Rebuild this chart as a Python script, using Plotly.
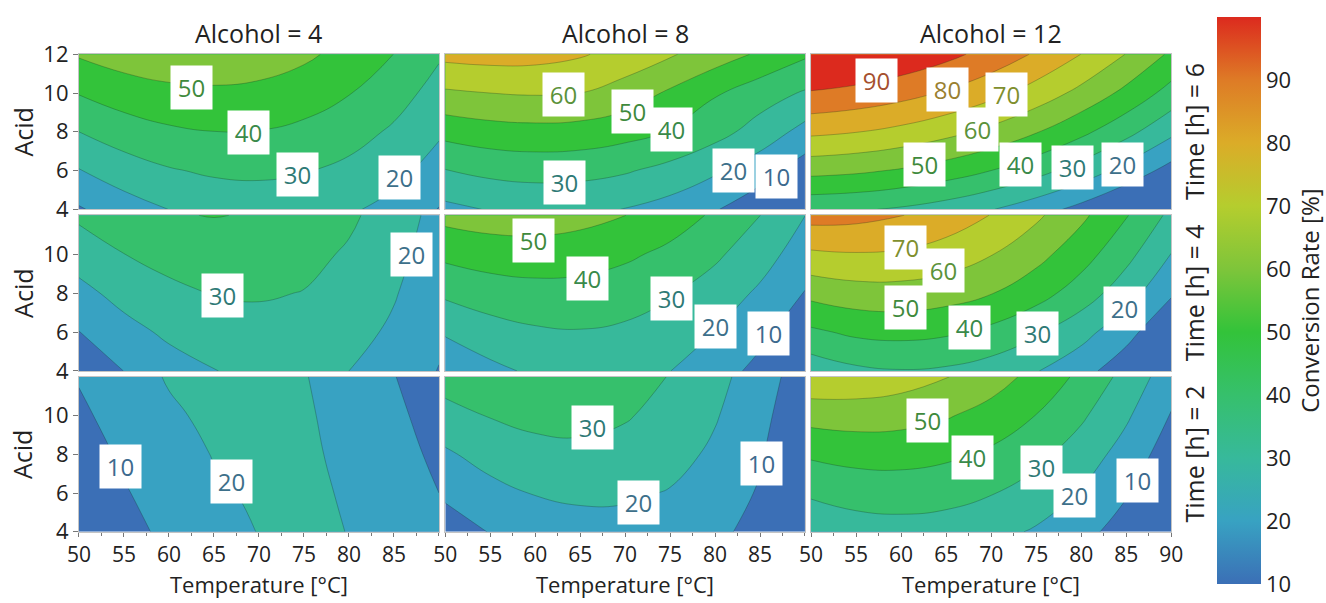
import plotly.graph_objects as go

# Grid of the response surfaces: temperature (°C) along x, acid along y
temperature = [50, 55, 60, 65, 70, 75, 80, 85, 90]
acid = [4, 6, 8, 10, 12]
alcohol_levels = [4, 8, 12]
time_levels = [6, 4, 2]

# Conversion rate [%]; one row per acid level (4, 6, 8, 10, 12)
conv_t6_alc4 = [
    [9.0, 15.4, 20.1, 23.0, 24.2, 23.6, 21.2, 17.1, 9.6],
    [19.5, 25.2, 29.2, 31.5, 32.0, 30.7, 27.6, 22.8, 16.2],
    [30.0, 35.1, 38.4, 39.9, 39.7, 37.7, 34.0, 28.5, 21.2],
    [40.5, 44.9, 47.5, 48.3, 47.5, 44.8, 40.4, 34.2, 26.2],
    [51.0, 54.7, 56.6, 56.8, 55.2, 51.9, 46.7, 39.9, 31.2],
]
conv_t6_alc8 = [
    [17.5, 20.6, 22.0, 21.8, 19.8, 16.1, 10.7, 3.7, -5.1],
    [29.6, 32.5, 33.7, 33.2, 31.0, 27.0, 21.4, 14.1, 5.0],
    [43.3, 45.9, 46.8, 46.1, 43.6, 39.4, 33.5, 26.0, 16.7],
    [58.5, 60.0, 60.8, 60.0, 55.5, 48.5, 41.0, 34.5, 29.0],
    [73.0, 74.0, 73.5, 71.0, 66.5, 61.0, 55.0, 48.5, 41.5],
]
conv_t6_alc12 = [
    [32.1, 31.1, 28.8, 25.3, 20.5, 14.3, 6.9, -1.8, -11.8],
    [53.1, 51.7, 49.1, 45.2, 40.0, 33.5, 25.7, 16.6, 6.3],
    [72.1, 70.3, 67.3, 63.0, 57.5, 50.6, 42.4, 33.0, 22.3],
    [89.1, 87.0, 83.6, 78.9, 73.0, 65.7, 57.2, 47.4, 36.3],
    [104.1, 101.6, 97.8, 92.8, 86.5, 78.8, 69.9, 59.7, 48.3],
]
conv_t4_alc4 = [
    [2.5, 10.1, 15.9, 19.8, 21.8, 21.8, 20.0, 16.3, 9.6],
    [9.8, 16.7, 21.8, 25.1, 26.5, 25.8, 23.1, 18.5, 12.1],
    [17.1, 23.3, 27.6, 30.5, 31.0, 29.7, 26.1, 20.7, 13.6],
    [24.4, 29.9, 33.5, 35.2, 35.0, 32.8, 28.8, 22.9, 15.1],
    [31.8, 36.5, 39.4, 40.3, 39.4, 36.5, 31.8, 25.1, 16.6],
]
conv_t4_alc8 = [
    [10.8, 17.5, 21.7, 23.6, 23.0, 20.1, 14.7, 7.0, -3.2],
    [21.3, 26.0, 28.7, 29.5, 28.3, 25.0, 19.8, 12.7, 3.5],
    [31.8, 35.1, 36.6, 36.4, 34.5, 30.9, 25.5, 18.4, 9.6],
    [42.4, 44.7, 45.4, 44.4, 41.8, 37.6, 31.7, 24.2, 15.1],
    [53.1, 54.9, 55.0, 53.4, 50.1, 45.1, 38.5, 30.1, 20.1],
]
conv_t4_alc12 = [
    [23.8, 28.0, 29.5, 28.5, 25.5, 20.5, 13.5, 4.0, -8.0],
    [38.2, 42.0, 43.0, 41.5, 37.5, 31.5, 23.5, 13.5, 1.0],
    [53.0, 55.8, 56.2, 54.4, 50.4, 44.0, 35.3, 24.4, 11.2],
    [68.3, 69.4, 68.5, 65.5, 60.4, 53.3, 44.2, 33.0, 19.8],
    [84.0, 83.0, 80.3, 75.9, 69.7, 61.8, 52.1, 40.7, 27.6],
]
conv_t2_alc4 = [
    [-2.5, 6.1, 12.7, 17.4, 20.2, 21.0, 19.9, 16.8, 11.9],
    [1.2, 9.1, 15.0, 19.0, 21.0, 21.2, 19.4, 15.6, 10.0],
    [4.6, 11.8, 17.1, 20.3, 21.7, 21.1, 18.6, 14.1, 7.7],
    [7.9, 14.4, 18.9, 21.5, 22.2, 20.9, 17.6, 12.4, 5.3],
    [10.8, 16.7, 20.6, 22.5, 22.5, 20.4, 16.4, 10.4, 2.4],
]
conv_t2_alc8 = [
    [5.4, 10.4, 13.8, 15.6, 15.9, 14.7, 11.8, 7.4, 1.5],
    [11.6, 17.0, 20.5, 22.1, 21.7, 19.4, 15.2, 9.1, 1.1],
    [18.6, 23.7, 26.8, 27.8, 26.7, 23.5, 18.2, 10.9, 1.4],
    [26.3, 30.5, 32.7, 32.8, 30.8, 26.9, 20.8, 12.8, 2.6],
    [34.6, 37.2, 38.1, 37.0, 34.2, 29.6, 23.1, 14.8, 4.6],
]
conv_t2_alc12 = [
    [23.0, 25.5, 26.3, 25.5, 23.0, 18.9, 13.1, 5.7, -3.4],
    [31.3, 33.8, 34.5, 33.4, 30.5, 25.8, 19.2, 10.8, 0.6],
    [41.5, 43.5, 43.7, 41.9, 38.3, 32.7, 25.3, 16.0, 4.8],
    [53.8, 54.6, 53.7, 50.9, 46.3, 39.8, 31.5, 21.4, 9.4],
    [68.0, 67.1, 64.6, 60.4, 54.5, 46.9, 37.7, 26.8, 14.2],
]

grids = [
    [conv_t6_alc4, conv_t6_alc8, conv_t6_alc12],
    [conv_t4_alc4, conv_t4_alc8, conv_t4_alc12],
    [conv_t2_alc4, conv_t2_alc8, conv_t2_alc12],
]

# Inline contour labels: (level, temperature, acid) per panel
labels_t6_alc4 = [(50, 62.5, 10.28), (40, 68.8, 7.97), (30, 74.3, 5.79), (20, 85.6, 5.62)]
labels_t6_alc8 = [(60, 63.1, 9.93), (50, 70.8, 9.05), (40, 75.2, 8.1),
                  (30, 63.3, 5.36), (20, 82.0, 6.0), (10, 86.8, 5.67)]
labels_t6_alc12 = [(90, 57.3, 10.67), (80, 65.15, 10.16), (70, 71.7, 9.9), (60, 68.5, 8.1),
                   (50, 62.6, 6.3), (40, 73.3, 6.3), (30, 79.0, 6.18), (20, 84.6, 6.3)]
labels_t4_alc4 = [(30, 65.9, 7.87), (20, 86.9, 10.0)]
labels_t4_alc8 = [(50, 59.8, 10.72), (40, 65.8, 8.73), (30, 75.2, 7.7), (20, 80.0, 6.3), (10, 86.0, 5.94)]
labels_t4_alc12 = [(70, 60.5, 10.34), (60, 64.7, 9.15), (50, 60.5, 7.27),
                   (40, 67.6, 6.25), (30, 75.1, 5.91), (20, 84.75, 7.19)]
labels_t2_alc4 = [(10, 54.6, 7.37), (20, 67.0, 6.57)]
labels_t2_alc8 = [(30, 66.4, 9.38), (20, 71.5, 5.52), (10, 85.2, 7.55)]
labels_t2_alc12 = [(50, 62.9, 9.74), (40, 67.9, 7.86), (30, 75.6, 7.34), (20, 79.3, 5.87), (10, 86.2, 6.64)]

labels = [
    [labels_t6_alc4, labels_t6_alc8, labels_t6_alc12],
    [labels_t4_alc4, labels_t4_alc8, labels_t4_alc12],
    [labels_t2_alc4, labels_t2_alc8, labels_t2_alc12],
]

# colour of each conversion level (10 ... 100)
scale_levels = [10, 20, 30, 40, 50, 60, 70, 80, 90, 100]
scale_colors = ["#3b6fb6", "#38a2c2", "#37b99b", "#36c06c", "#33c33a",
                "#7ec53a", "#b5cd2e", "#dbac28", "#de7b26", "#dc2a1e"]
colorscale = [[(v - 10) / 90, c] for v, c in zip(scale_levels, scale_colors)]

label_text_colors = {10: "#3d6a8e", 20: "#3d708a", 30: "#2f7a76", 40: "#3a8a4a", 50: "#3f8a3c",
                     60: "#5b923a", 70: "#7f8f2e", 80: "#9a8030", 90: "#a5502e"}

FONT = "Open Sans"
W, H = 1326, 603

# panel boxes in pixels (left, right) / (top, bottom)
col_px = [(68.2, 435.2), (441.6, 808.2), (814.4, 1181.6)]
row_px = [(40.3, 203.4), (209.7, 373.5), (379.8, 542.7)]

fig = go.Figure()
layout = dict(
    width=W, height=H, margin=dict(l=0, r=0, t=0, b=0),
    paper_bgcolor="white", plot_bgcolor="white",
    font=dict(family=FONT, size=22, color="#222222"),
    showlegend=False,
)
annotations = []

for r in range(3):
    for c in range(3):
        n = r * 3 + c + 1
        xa, ya = f"x{n}", f"y{n}"
        fig.add_trace(go.Contour(
            x=temperature, y=acid, z=grids[r][c],
            xaxis=xa, yaxis=ya,
            colorscale=colorscale, showscale=False,
            contours=dict(start=10, end=90, size=10, coloring="fill", showlabels=False),
            line=dict(color="rgba(20,40,30,0.35)", width=0.8, smoothing=1.3),
            hoverinfo="skip",
        ))
        x0, x1 = col_px[c]
        y0, y1 = row_px[r]
        xkey = "xaxis" if n == 1 else f"xaxis{n}"
        ykey = "yaxis" if n == 1 else f"yaxis{n}"
        bottom = r == 2
        left = c == 0
        layout[xkey] = dict(
            domain=[x0 / W, x1 / W], range=[50, 90], anchor=ya,
            showgrid=False, zeroline=False, showline=True, linecolor="#c4c4c4",
            linewidth=1, mirror=True,
            ticks="outside" if bottom else "", ticklen=4, tickcolor="#777777",
            tickvals=([50, 55, 60, 65, 70, 75, 80, 85, 90] if c == 2 else [50, 55, 60, 65, 70, 75, 80, 85]) if bottom else [],
            showticklabels=bottom,
            tickfont=dict(size=21),
            minor=dict(ticks="outside", ticklen=3, dtick=2.5, tickcolor="#777777") if bottom else None,
        )
        layout[ykey] = dict(
            domain=[1 - y1 / H, 1 - y0 / H], range=[4, 12], anchor=xa,
            showgrid=False, zeroline=False, showline=True, linecolor="#c4c4c4",
            linewidth=1, mirror=True,
            ticks="outside" if left else "", ticklen=5, tickcolor="#777777",
            tickvals=([4, 6, 8, 10, 12] if r == 0 else [4, 6, 8, 10]) if left else [],
            showticklabels=left,
            tickfont=dict(size=22),
        )
        for level, t, a in labels[r][c]:
            annotations.append(dict(
                x=t, y=a, xref=xa, yref=ya, text=str(level), showarrow=False,
                bgcolor="white", width=39, height=41, borderpad=1,
                font=dict(size=24, color=label_text_colors[level]),
            ))

# colour bar
fig.add_trace(go.Scatter(
    x=[0], y=[0], xaxis="x", yaxis="y", mode="markers",
    marker=dict(color=[10], cmin=10, cmax=100, colorscale=colorscale, showscale=True, size=1,
                colorbar=dict(
                    x=1228 / W, xanchor="left", y=1 - 299.5 / H, yanchor="middle",
                    len=597 / H, lenmode="fraction", thickness=44,
                    outlinewidth=0, xpad=0, ypad=0,
                    tickvals=[10, 20, 30, 40, 50, 60, 70, 80, 90], ticks="",
                    tickfont=dict(size=22),
                    title=dict(text="Conversion Rate [%]", side="right", font=dict(size=24)),
                )),
    hoverinfo="skip", cliponaxis=True,
))

for c, alc in enumerate(alcohol_levels):
    cx = (col_px[c][0] + col_px[c][1]) / 2 / W
    annotations.append(dict(x=cx, y=1 - 18 / H, xref="paper", yref="paper", text=f"Alcohol = {alc}",
                            showarrow=False, font=dict(size=25), xanchor="center", yanchor="middle"))
    annotations.append(dict(x=cx, y=1 - 598 / H, xref="paper", yref="paper", text="Temperature [°C]",
                            showarrow=False, font=dict(size=22), xanchor="center", yanchor="middle",
                            borderpad=0))
for r, tm in enumerate(time_levels):
    cy = 1 - (row_px[r][0] + row_px[r][1]) / 2 / H
    annotations.append(dict(x=1205 / W, y=cy, xref="paper", yref="paper", text=f"Time [h] = {tm}",
                            showarrow=False, textangle=-90, font=dict(size=25),
                            xanchor="center", yanchor="middle"))
    annotations.append(dict(x=11 / W, y=cy, xref="paper", yref="paper", text="Acid",
                            showarrow=False, textangle=-90, font=dict(size=25),
                            xanchor="center", yanchor="middle"))

layout["annotations"] = annotations
fig.update_layout(**layout)
fig.write_html("out.html")
